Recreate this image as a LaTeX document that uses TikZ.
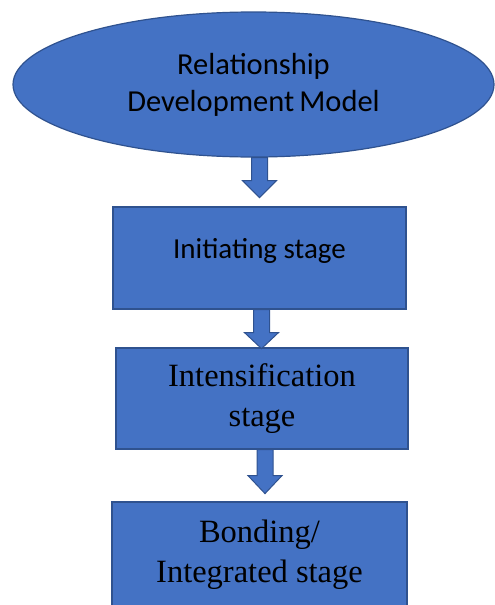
\documentclass[tikz,border=0pt]{standalone}
\usepackage{fontspec}
\setmainfont{Liberation Serif}
\newfontfamily\calibri{Carlito}
\usetikzlibrary{shapes.geometric}
\definecolor{stageblue}{HTML}{4472C4}
\definecolor{stageline}{HTML}{2F528F}

\begin{document}
\begin{tikzpicture}[x=1pt, y=-1pt,
		stagebox/.style={draw=stageline, fill=stageblue, line width=1.2pt, align=center},
		arrowblock/.style={draw=stageline, fill=stageblue, line width=1pt, line join=miter}]
			\useasboundingbox (0,0) rectangle (495,605);
			\node [stagebox, ellipse, minimum width=481pt, minimum height=145pt,
				font=\calibri\fontsize{30.5}{37}\selectfont] (model) at (253.5,84.5) {Relationship\\Development\,Model};
			\node [stagebox, minimum width=293pt, minimum height=102pt, text depth=20pt,
				font=\calibri\fontsize{29}{35}\selectfont] (init) at (259.5,258) {Initiating stage};
			\node [stagebox, minimum width=292pt, minimum height=101pt,
				font=\fontsize{32.5}{40}\selectfont] (intens) at (262,398.5) {Intensification\\stage};
			\node [stagebox, minimum width=295pt, minimum height=105pt,
				font=\fontsize{32.5}{40}\selectfont] (bond) at (259.5,554.5) {Bonding/\\Integrated stage};
			% block arrows between the stages
			\foreach \from/\dx/\len/\tip in {model/6/23/17, init/2/23/16, intens/3/26/18}
				\draw [arrowblock] ([xshift=\dx-8]\from.south) -- ++(0,\len) -- ++(-9,0)
				-- ++(17,\tip) -- ++(17,-\tip) -- ++(-9,0) -- ++(0,-\len) -- cycle;
		\end{tikzpicture}
\end{document}
